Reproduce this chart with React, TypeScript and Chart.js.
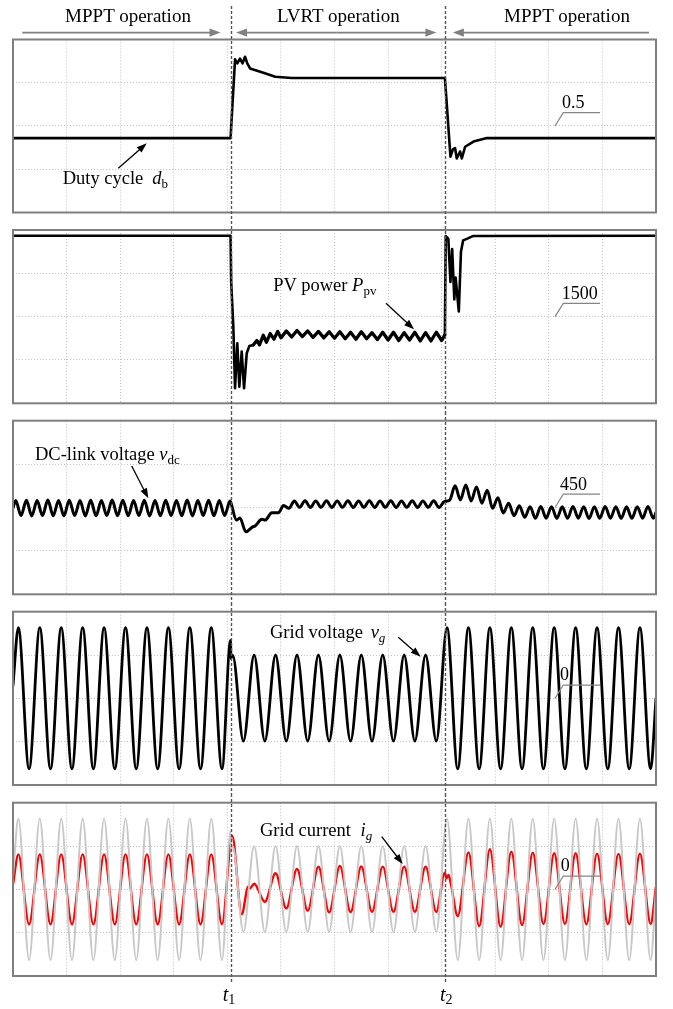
import React, { useEffect, useRef } from 'react';
import { Chart, registerables } from 'chart.js';

Chart.register(...registerables);

type Pt = [number, number];

// ---------------- time axis (s): 12 divisions of 50 ms ----------------
const T_MIN = 0;
const T_MAX = 0.6;
const T_DIV = 0.05;
const T1 = 0.203; // fault starts
const T2 = 0.403; // fault cleared

// ---------------- labels ----------------
const headerLabels = ['MPPT operation', 'LVRT operation', 'MPPT operation'];
const refLabels = ['0.5', '1500', '450', '0', '0'];
const timeLabels = ['1', '2'];

// ---------------- y axes: [min, max, step per division] ----------------
const dutyAxis = [0.3, 0.7, 0.1];
const powerAxis = [500, 2500, 500];
const vdcAxis = [410, 490, 20];
const vgAxis = [-400, 400, 200];
const igAxis = [-10, 10, 5];

// ---------------- Panel 1: duty cycle d_b ----------------
const dutyCycle: Pt[] = [
  [0, 0.472], [0.203, 0.472], [0.2072, 0.654], [0.2093, 0.645], [0.2118, 0.656],
  [0.2142, 0.645], [0.2165, 0.66], [0.2186, 0.645], [0.2212, 0.633], [0.2336, 0.623],
  [0.2447, 0.614], [0.26, 0.611], [0.403, 0.611], [0.4045, 0.56], [0.4082, 0.429],
  [0.4105, 0.446], [0.4125, 0.449], [0.4141, 0.425], [0.4172, 0.441], [0.4188, 0.425],
  [0.4219, 0.452], [0.4297, 0.464], [0.4422, 0.472], [0.6, 0.472],
];

// ---------------- Panel 2: PV power P_pv (W) ----------------
const pvPower: Pt[] = [
  [0, 2434], [0.203, 2434], [0.2036, 1900], [0.2056, 1384], [0.2072, 673], [0.2093, 1192],
  [0.2112, 692], [0.2134, 1096], [0.2156, 673], [0.2181, 1077], [0.2205, 1160], [0.2242, 1173],
  [0.2275, 1225], [0.23, 1175], [0.2335, 1285], [0.2365, 1205], [0.24, 1305], [0.2435, 1240],
  [0.247, 1330], [0.25, 1255], [0.255, 1335], [0.26, 1265], [0.265, 1340], [0.27, 1270],
  [0.275, 1335], [0.28, 1260], [0.285, 1330], [0.29, 1255], [0.295, 1325], [0.3, 1250],
  [0.305, 1325], [0.31, 1245], [0.315, 1320], [0.32, 1240], [0.325, 1325], [0.33, 1245],
  [0.335, 1315], [0.34, 1235], [0.345, 1320], [0.35, 1230], [0.355, 1320], [0.36, 1225],
  [0.365, 1315], [0.37, 1230], [0.375, 1320], [0.38, 1220], [0.385, 1315], [0.39, 1220],
  [0.395, 1320], [0.4, 1225], [0.403, 1290], [0.4038, 2430], [0.4062, 2400], [0.4082, 1900],
  [0.4098, 2280], [0.4118, 1700], [0.413, 1950], [0.416, 1560], [0.418, 2250], [0.42, 2380],
  [0.424, 2400], [0.429, 2430], [0.6, 2434],
];

// ---------------- Panel 3: DC-link voltage v_dc (V) ----------------
// ripple extrema, one every 5 ms
const vdcStart: Pt[] = [[0, 449.8]];
const vdcMpptExtrema = [
  453.2, 446.3, 453.3, 446.1, 453.2, 446.3, 453.4, 446.2, 453.2, 446.2,
  453.3, 446.3, 453.2, 446.1, 453.3, 446.2, 453.2, 446.3, 453.4, 446.2,
  453.3, 446.2, 453.2, 446.3, 453.3, 446.1, 453.2, 446.2, 453.3, 446.3,
  453.2, 446.2, 453.4, 446.1, 453.2, 446.3, 453.3, 446.2, 453.2, 446.3,
  453.0,
]; // 2.5 ms ... 202.5 ms
const vdcFaultTransient: Pt[] = [
  [0.2031, 452.5], [0.2086, 444.2], [0.2117, 445.2], [0.2173, 438.8], [0.2236, 441.1],
  [0.2259, 441.5], [0.2322, 444.6], [0.2353, 444.2], [0.2415, 447.6], [0.2477, 447.6],
  [0.2525, 450.9], [0.2575, 449.6],
];
const vdcLvrtExtrema = [
  453.0, 450.1, 453.1, 450.0, 453.0, 450.1, 453.1, 450.0, 453.0, 450.1,
  453.1, 450.0, 453.0, 450.1, 453.1, 450.0, 453.0, 450.1, 453.1, 450.0,
  453.0, 450.1, 453.1, 450.0, 453.0, 450.1, 453.1, 450.0, 452.7,
]; // 262.5 ms ... 402.5 ms
const vdcRecovery: Pt[] = [[0.4075, 453.4]];
const vdcPostExtrema = [
  460.0, 453.5, 460.4, 453.0, 459.5, 452.0, 458.0, 449.6, 454.5, 447.5,
  452.0, 446.2, 450.8, 445.5, 450.4, 445.0, 450.5, 445.1, 450.4, 445.0,
  450.3, 445.0, 450.5, 445.1, 450.4, 444.9, 450.4, 445.0, 450.5, 445.1,
  450.4, 445.0, 450.3, 445.0, 450.4, 445.1, 450.5, 445.0,
]; // 412.5 ms ... 597.5 ms
const vdcEnd: Pt[] = [[0.6, 447.7]];

// ---------------- Panel 4: grid voltage v_g (V) ----------------
// extrema, one every half cycle (10 ms)
const vgStart: Pt[] = [[0, 60]];
const vgMpptExtrema = [
  326, -326, 326, -326, 326, -326, 326, -326, 326, -326,
  326, -326, 326, -326, 326, -326, 326, -326, 326, -326,
]; // 5 ms ... 195 ms
const vgAtFault: Pt[] = [[0.203, 268], [0.2034, 185]];
const vgLvrtExtrema = [
  200, -197, 200, -197, 200, -197, 200, -197, 200, -197,
  200, -197, 200, -197, 200, -197, 200, -197, 200, -197,
]; // 205 ms ... 395 ms
const vgPostExtrema = [
  326, -326, 326, -326, 326, -326, 326, -326, 326, -326,
  326, -326, 326, -326, 326, -326, 326, -326, 326, -326,
]; // 405 ms ... 595 ms
const vgEnd: Pt[] = [[0.6, 0]];

// ---------------- Panel 5: grid current i_g (A) ----------------
const igStart: Pt[] = [[0, 0.6]];
const igMpptExtrema = [
  4.04, -4.03, 4.04, -4.03, 4.04, -4.03, 4.04, -4.03, 4.04, -4.03,
  4.04, -4.03, 4.04, -4.03, 4.04, -4.03, 4.04, -4.03, 4.04, -4.03,
]; // 5 ms ... 195 ms
const igFaultTransient: Pt[] = [
  [0.2045, 6.19], [0.2134, -2.88], [0.2195, 0.3], [0.2212, 0.15], [0.225, 0.65],
  [0.235, -1.43], [0.245, 1.85], [0.255, -2.19], [0.265, 2.35], [0.275, -2.46],
  [0.285, 2.61], [0.295, -2.65],
];
const igLvrtExtrema = [2.69, -2.62, 2.63, -2.6, 2.62, -2.58, 2.61, -2.58, 2.61, -2.6]; // 305 ... 395 ms
const igAtRecovery: Pt[] = [[0.403, 1.93], [0.4045, 1.27], [0.4065, 1.66], [0.4085, 0.7], [0.415, -3.08]];
const igPostExtrema = [
  4.27, -4.23, 4.62, -4.31, 4.35, -4.12, 4.23, -4.0, 4.16, -4.0,
  4.16, -4.02, 4.12, -4.0, 4.09, -4.0, 4.12, -3.98,
]; // 425 ms ... 595 ms
const igEnd: Pt[] = [[0.6, 0.3]];

// ---------------- helpers to build tables ----------------
const seq = (t0: number, dt: number, vals: number[]): Pt[] => vals.map((v, i) => [t0 + i * dt, v]);
const xy = (pts: Pt[]) => pts.map(([x, y]) => ({ x, y }));

const vdcSeries = xy([
  ...vdcStart, ...seq(0.0025, 0.005, vdcMpptExtrema), ...vdcFaultTransient,
  ...seq(0.2625, 0.005, vdcLvrtExtrema), ...vdcRecovery, ...seq(0.4125, 0.005, vdcPostExtrema), ...vdcEnd,
]);
const vgSeries = xy([
  ...vgStart, ...seq(0.005, 0.01, vgMpptExtrema), ...vgAtFault,
  ...seq(0.205, 0.01, vgLvrtExtrema), ...seq(0.405, 0.01, vgPostExtrema), ...vgEnd,
]);
const igSeries = xy([
  ...igStart, ...seq(0.005, 0.01, igMpptExtrema), ...igFaultTransient,
  ...seq(0.305, 0.01, igLvrtExtrema), ...igAtRecovery, ...seq(0.425, 0.01, igPostExtrema), ...igEnd,
]);

// ---------------- styling ----------------
const SERIF = '"Liberation Serif", "Times New Roman", "DejaVu Serif", serif';
const W = 673;

function drawArrow(ctx: CanvasRenderingContext2D, x1: number, y1: number, x2: number, y2: number,
  color: string, lw: number, hl: number, hw: number) {
  const ang = Math.atan2(y2 - y1, x2 - x1);
  const bx = x2 - Math.cos(ang) * hl * 0.85;
  const by = y2 - Math.sin(ang) * hl * 0.85;
  ctx.strokeStyle = color;
  ctx.fillStyle = color;
  ctx.lineWidth = lw;
  ctx.setLineDash([]);
  ctx.beginPath();
  ctx.moveTo(x1, y1);
  ctx.lineTo(bx, by);
  ctx.stroke();
  ctx.beginPath();
  ctx.moveTo(x2, y2);
  ctx.lineTo(x2 - Math.cos(ang) * hl + Math.sin(ang) * hw, y2 - Math.sin(ang) * hl - Math.cos(ang) * hw);
  ctx.lineTo(x2 - Math.cos(ang) * hl - Math.sin(ang) * hw, y2 - Math.sin(ang) * hl + Math.cos(ang) * hw);
  ctx.closePath();
  ctx.fill();
}

interface Deco {
  top: number; // canvas top on page
  lineFrom: number; // page y
  lineTo: number; // page y
  arrow: [number, number, number, number]; // page coords
  header?: boolean;
}

function makeDeco(d: Deco) {
  return {
    id: 'deco',
    afterDraw(chart: any) {
      const { ctx, chartArea: a, scales } = chart;
      const xs = scales.x;
      ctx.save();
      // frame
      ctx.setLineDash([]);
      ctx.strokeStyle = '#7f7f7f';
      ctx.lineWidth = 2;
      ctx.strokeRect(a.left, a.top, a.right - a.left, a.bottom - a.top);
      // reference-level leader
      const cy = (a.top + a.bottom) / 2;
      ctx.strokeStyle = '#858585';
      ctx.lineWidth = 1.2;
      ctx.beginPath();
      ctx.moveTo(a.left + 542, cy);
      ctx.lineTo(a.left + 550.3, cy - 13.3);
      ctx.lineTo(a.left + 587, cy - 13.3);
      ctx.stroke();
      // label arrow
      const [ax1, ay1, ax2, ay2] = d.arrow;
      drawArrow(ctx, ax1, ay1 - d.top, ax2, ay2 - d.top, '#000', 1.3, 10, 3.6);
      const x1 = xs.getPixelForValue(T1);
      const x2 = xs.getPixelForValue(T2);
      // header arrows
      if (d.header) {
        const y = 32.6;
        const c = '#808080';
        drawArrow(ctx, 22.3, y, x1 - 10, y, c, 1.6, 11, 4.2);
        drawArrow(ctx, (x1 + x2) / 2, y, x1 + 5.5, y, c, 1.6, 11, 4.2);
        drawArrow(ctx, (x1 + x2) / 2, y, x2 - 8.5, y, c, 1.6, 11, 4.2);
        drawArrow(ctx, 649, y, x2 + 8, y, c, 1.6, 11, 4.2);
      }
      // t1 / t2 markers
      ctx.strokeStyle = '#555';
      ctx.lineWidth = 1.4;
      ctx.setLineDash([3, 2]);
      for (const x of [x1, x2]) {
        const px = Math.round(x) + 0.5;
        ctx.beginPath();
        ctx.moveTo(px, d.lineFrom - d.top);
        ctx.lineTo(px, d.lineTo - d.top);
        ctx.stroke();
      }
      ctx.restore();
    },
  };
}

interface PanelProps {
  top: number;
  height: number;
  padTop: number;
  padBottom: number;
  axis: number[];
  datasets: any[];
  extraScales?: Record<string, any>;
  deco: Deco;
}

const gridCommon = {
  grid: { color: '#c2c2c2', lineWidth: 1, drawTicks: false },
  border: { display: false, dash: [1, 2] },
};

function Panel(p: PanelProps) {
  const ref = useRef<HTMLCanvasElement>(null);
  useEffect(() => {
    if (!ref.current) return;
    const chart = new Chart(ref.current, {
      type: 'line',
      data: { datasets: p.datasets },
      options: {
        animation: false,
        responsive: false,
        maintainAspectRatio: false,
        devicePixelRatio: 1,
        events: [],
        layout: { padding: { left: 13, right: 17, top: p.padTop, bottom: p.padBottom } },
        plugins: { legend: { display: false }, tooltip: { enabled: false }, title: { display: false } },
        elements: { point: { radius: 0 }, line: { borderCapStyle: 'round', borderJoinStyle: 'round' } },
        scales: {
          x: {
            type: 'linear', min: T_MIN, max: T_MAX,
            ticks: { display: false, stepSize: T_DIV },
            ...gridCommon,
          },
          y: {
            type: 'linear', min: p.axis[0], max: p.axis[1],
            ticks: { display: false, stepSize: p.axis[2] },
            ...gridCommon,
          },
          ...(p.extraScales || {}),
        },
      } as any,
      plugins: [makeDeco(p.deco)],
    });
    return () => chart.destroy();
  }, []);
  return (
    <canvas
      ref={ref}
      width={W}
      height={p.height}
      style={{ position: 'absolute', left: 0, top: p.top, width: W, height: p.height, display: 'block' }}
    />
  );
}

function Txt({ x, y, size = 18.5, center = false, children }: any) {
  return (
    <div
      style={{
        position: 'absolute', left: x, top: y - 0.8375 * size, fontSize: size,
        lineHeight: `${size}px`, whiteSpace: 'nowrap', color: '#000', fontFamily: SERIF,
        transform: center ? 'translateX(-50%)' : undefined, zIndex: 2,
      }}
    >
      {children}
    </div>
  );
}
const I = ({ children }: any) => <span style={{ fontStyle: 'italic' }}>{children}</span>;
const Sub = ({ children, italic = false, size = 13, dy = 4 }: any) => (
  <span style={{ fontSize: size, position: 'relative', top: dy, fontStyle: italic ? 'italic' : 'normal' }}>{children}</span>
);

const line = (data: any, color: string, width: number, smooth: boolean, yAxisID = 'y', extra: any = {}) => ({
  data, borderColor: color, borderWidth: width, yAxisID, pointRadius: 0, fill: false,
  tension: 0, cubicInterpolationMode: smooth ? 'monotone' : 'default', ...extra,
});

// thicker stroke for the noisy LVRT power band
const lvrtBand = {
  segment: {
    borderWidth: (c: any) => (c.p0.parsed.x > 0.222 && c.p1.parsed.x < 0.4031 ? 3.3 : undefined),
  },
};

export default function App() {
  useEffect(() => {
    document.documentElement.style.overflow = 'hidden';
  }, []);
  return (
    <div style={{ position: 'absolute', left: 0, top: 0, width: W, height: 1009, background: '#fff', overflow: 'hidden' }}>
      <Panel
        top={0} height={221} padTop={39.5} padBottom={8.5} axis={dutyAxis}
        datasets={[line(xy(dutyCycle), '#000', 2.6, false)]}
        deco={{ top: 0, lineFrom: 6, lineTo: 221, arrow: [118.3, 168.3, 146.7, 143.3], header: true }}
      />
      <Panel
        top={221} height={191} padTop={9} padBottom={8.7} axis={powerAxis}
        datasets={[line(xy(pvPower), '#000', 2.6, false, 'y', lvrtBand)]}
        deco={{ top: 221, lineFrom: 221, lineTo: 412, arrow: [386, 303.3, 414, 329.3] }}
      />
      <Panel
        top={412} height={191} padTop={8.7} padBottom={8.7} axis={vdcAxis}
        datasets={[line(vdcSeries, '#000', 3, true)]}
        deco={{ top: 412, lineFrom: 412, lineTo: 603, arrow: [131.7, 466, 148.3, 498.3] }}
      />
      <Panel
        top={603} height={191} padTop={8.7} padBottom={9} axis={vgAxis}
        datasets={[line(vgSeries, '#000', 2.8, true)]}
        deco={{ top: 603, lineFrom: 603, lineTo: 794, arrow: [398.3, 637.3, 420.7, 656.7] }}
      />
      <Panel
        top={794} height={215} padTop={8.7} padBottom={33} axis={igAxis}
        datasets={[line(vgSeries, '#c8c8c8', 2, true, 'yv'), line(igSeries, '#ff0000', 2.4, true)]}
        extraScales={{ yv: { type: 'linear', display: false, min: vgAxis[0], max: vgAxis[1] } }}
        deco={{ top: 794, lineFrom: 794, lineTo: 982, arrow: [381.7, 836.7, 402.7, 864] }}
      />

      <Txt x={128} y={22.3} size={19} center>{headerLabels[0]}</Txt>
      <Txt x={338.4} y={22.3} size={19} center>{headerLabels[1]}</Txt>
      <Txt x={567} y={22.3} size={19} center>{headerLabels[2]}</Txt>

      <Txt x={62.7} y={184}>Duty cycle<span style={{ marginLeft: 9 }}><I>d</I><Sub>b</Sub></span></Txt>
      <Txt x={273.3} y={291.7}>PV power <I>P</I><Sub>pv</Sub></Txt>
      <Txt x={35} y={460}>DC-link voltage <I>v</I><Sub>dc</Sub></Txt>
      <Txt x={270} y={638.3}>Grid voltage <span style={{ marginLeft: 3 }}><I>v</I><Sub italic>g</Sub></span></Txt>
      <Txt x={260} y={836}>Grid current <span style={{ marginLeft: 5 }}><I>i</I><Sub italic>g</Sub></span></Txt>

      <Txt x={562} y={108} size={18}>{refLabels[0]}</Txt>
      <Txt x={561.7} y={299} size={18}>{refLabels[1]}</Txt>
      <Txt x={560} y={490} size={18}>{refLabels[2]}</Txt>
      <Txt x={560} y={680} size={18}>{refLabels[3]}</Txt>
      <Txt x={560.7} y={871} size={18}>{refLabels[4]}</Txt>

      <Txt x={222.7} y={1000.7} size={20}><I>t</I><Sub size={14} dy={3}>{timeLabels[0]}</Sub></Txt>
      <Txt x={440} y={1000.7} size={20}><I>t</I><Sub size={14} dy={3}>{timeLabels[1]}</Sub></Txt>
    </div>
  );
}
